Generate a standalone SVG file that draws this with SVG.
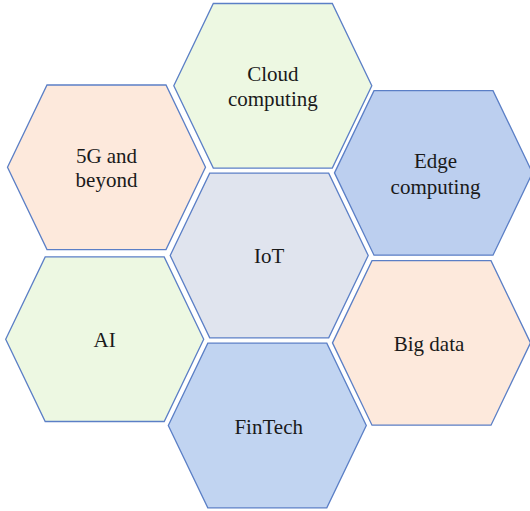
<svg xmlns="http://www.w3.org/2000/svg" xmlns:xlink="http://www.w3.org/1999/xlink" width="530" height="511" viewBox="0 0 530 511">
<style>
.hex{stroke:#5b7fc6;stroke-width:1.3;stroke-linejoin:miter}
.green{fill:#edf8e2}
.peach{fill:#fde9dc}
.blue{fill:#bccfef}
.blue2{fill:#c1d4f1}
.grey{fill:#e0e4ee}
text{font-family:"Liberation Serif","Times New Roman",serif;font-size:21px;fill:#1a1a1a;text-anchor:middle}
</style>
<defs>
<polygon id="hx" points="-99,0 -59.5,-82.3 59.5,-82.3 99,0 59.5,82.3 -59.5,82.3"/>
</defs>
<rect width="530" height="511" fill="#ffffff"/>
<g id="cloud" transform="translate(272.8,85.8)">
<use xlink:href="#hx" href="#hx" class="hex green"/>
<text x="0" y="-5">Cloud</text>
<text x="0" y="20.5">computing</text>
</g>
<g id="fiveg" transform="translate(106.5,167.3)">
<use xlink:href="#hx" href="#hx" class="hex peach"/>
<text x="0" y="-4.5">5G and</text>
<text x="0" y="20">beyond</text>
</g>
<g id="edge" transform="translate(433.5,172.9)">
<use xlink:href="#hx" href="#hx" class="hex blue"/>
<text x="2" y="-5">Edge</text>
<text x="2" y="21">computing</text>
</g>
<g id="iot" transform="translate(269.2,255.5)">
<use xlink:href="#hx" href="#hx" class="hex grey"/>
<text x="0" y="7.8">IoT</text>
</g>
<g id="ai" transform="translate(104.7,339.2)">
<use xlink:href="#hx" href="#hx" class="hex green"/>
<text x="0" y="7.5">AI</text>
</g>
<g id="bigdata" transform="translate(431.5,342.9)">
<use xlink:href="#hx" href="#hx" class="hex peach"/>
<text x="-2.5" y="8">Big data</text>
</g>
<g id="fintech" transform="translate(267.3,425.5)">
<use xlink:href="#hx" href="#hx" class="hex blue2"/>
<text x="1.4" y="8.5">FinTech</text>
</g>
<g id="connectors"/>
</svg>
